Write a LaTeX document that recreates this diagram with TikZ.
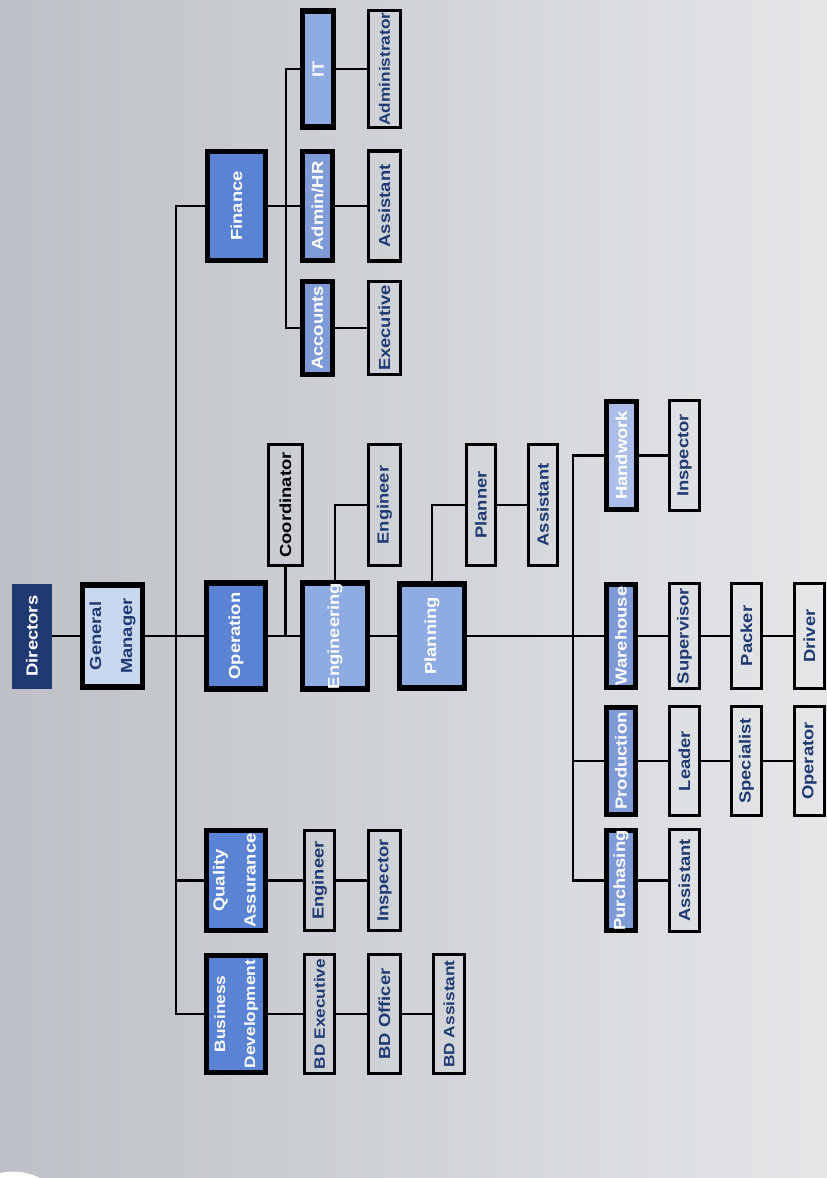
\documentclass[tikz,border=0pt]{standalone}
\usepackage{fontspec}
\setmainfont{Liberation Sans}[FakeStretch=1.15]
\definecolor{navy}{HTML}{1F3A73}
\definecolor{bluea}{HTML}{5A83D4}
\definecolor{blueb}{HTML}{8EABE2}
\definecolor{bluec}{HTML}{7E9BD8}
\definecolor{blued}{HTML}{AABEE8}
\definecolor{gmfill}{HTML}{C9D7EF}
\definecolor{bgl}{HTML}{BDC0C6}
\definecolor{bgr}{HTML}{E4E6E8}
\newcommand{\orgnode}[6]{\node[#1,minimum width=#4pt,minimum height=#5pt] (#2) at (#3) {\rotatebox{90}{#6}};}
\newcommand{\twolines}[2]{\begin{tabular}{@{}c@{}}#1\\[10pt]#2\end{tabular}}
\newcommand{\smallertext}{\fontsize{15}{20}\selectfont}
\begin{document}
\begin{tikzpicture}[x=1pt,y=-1pt,
  base/.style={rectangle,inner sep=0pt,font=\bfseries\fontsize{16}{21}\selectfont},
  topbox/.style={base,fill=navy,text=white},
  gmbox/.style={base,draw=black,line width=5.5pt,fill=gmfill,text=navy},
  deptA/.style={base,draw=black,line width=5.5pt,fill=bluea,text=white},
  deptB/.style={base,draw=black,line width=5.5pt,fill=blueb,text=white},
  deptC/.style={base,draw=black,line width=5.5pt,fill=bluec,text=white},
  deptD/.style={base,draw=black,line width=5.5pt,fill=blued,text=white},
  leaf/.style={base,draw=black,line width=3.2pt,text=navy},
  conn/.style={draw=black,line width=2.8pt}]
\useasboundingbox (0,0) rectangle (827,1178);
\shade[left color=bgl,right color=bgr] (0,0) rectangle (827,1178);
\fill[white] (0,1178) -- (0,1173) .. controls (14,1170) and (28,1172) .. (40,1178) -- cycle;

% trunk x positions
\coordinate (t1) at (176,0);
\coordinate (t2) at (286,0);
\coordinate (t3) at (573,0);

% main row
\orgnode{topbox}{dir}{32,636}{40}{105}{Directors}
\orgnode{gmbox}{gm}{112.5,636}{60}{102}{\twolines{General}{Manager}}
\orgnode{deptA}{op}{236,636}{59}{106}{Operation}
\orgnode{deptB}{eng}{335,636}{65}{106}{Engineering}
\orgnode{deptB}{plan}{432,636}{65}{104}{Planning}

% operation / engineering / planning children
\node[leaf,text=black,minimum width=34pt,minimum height=121pt] (coord) at (285.5,505) {\rotatebox{90}{Coordinator}};
\orgnode{leaf}{engr}{384.5,505}{32}{121}{Engineer}
\orgnode{leaf}{planner}{481,505}{29}{121}{Planner}
\orgnode{leaf}{passt}{543,505}{29}{121}{Assistant}

% planning sub-departments
\orgnode{deptD}{hand}{621.5,455.5}{30}{108}{Handwork}
\orgnode{leaf}{hinsp}{684.5,455.5}{30}{110}{Inspector}
\orgnode{deptC}{ware}{621,636}{29}{103}{Warehouse}
\orgnode{leaf}{sup}{684.5,636}{30}{105}{Supervisor}
\orgnode{leaf}{pack}{746.5,636}{30}{105}{Packer}
\orgnode{leaf}{drv}{809.5,636}{30}{105}{Driver}
\orgnode{deptC}{prod}{621,761}{29}{107}{Production}
\orgnode{leaf}{lead}{684.5,761}{30}{109}{Leader}
\orgnode{leaf}{spec}{746.5,761}{30}{109}{Specialist}
\orgnode{leaf}{oper}{809.5,761}{30}{109}{Operator}
\orgnode{deptC}{purch}{621,880.5}{29}{100}{Purchasing}
\orgnode{leaf}{passt2}{684.5,880.5}{30}{102}{Assistant}

% quality assurance
\orgnode{deptA}{qa}{236,880.5}{59}{100}{\twolines{Quality}{Assurance}}
\orgnode{leaf}{qaeng}{319.5,880.5}{30}{100}{Engineer}
\orgnode{leaf}{qainsp}{384.5,880.5}{32}{100}{Inspector}

% business development
\orgnode{deptA}{bd}{236,1014}{59}{117}{\smallertext\twolines{Business}{Development}}
\orgnode{leaf}{bdex}{319.5,1014}{30}{119}{\smallertext BD Executive}
\orgnode{leaf}{bdoff}{384.5,1014}{32}{119}{BD Officer}
\orgnode{leaf}{bdas}{449,1014}{31}{119}{\smallertext BD Assistant}

% finance
\orgnode{deptA}{fin}{236.5,206}{58}{109}{Finance}
\orgnode{deptB}{it}{318,69}{31}{116}{IT}
\orgnode{deptC}{admin}{317.5,206}{30}{109}{Admin/HR}
\orgnode{deptC}{acc}{317.5,328}{30}{93}{Accounts}
\orgnode{leaf}{adm}{384.5,69}{32}{117}{\smallertext Administrator}
\orgnode{leaf}{aasst}{384.5,206}{32}{110}{Assistant}
\orgnode{leaf}{exe}{384.5,328}{32}{93}{Executive}

% connectors
\draw[conn] (dir.east) -- (gm.west);
\draw[conn] (gm.east) -- (op.west);
\draw[conn] (fin.west) -- (fin.west -| t1) -- (bd.west -| t1) -- (bd.west);
\draw[conn] (qa.west) -- (qa.west -| t1);
\draw[conn] (op.east) -- (eng.west);
\draw[conn] (coord.south) -- (coord.south |- op.east);
\draw[conn] (eng.north) |- (engr.west);
\draw[conn] (eng.east) -- (plan.west);
\draw[conn] (plan.north) |- (planner.west);
\draw[conn] (planner.east) -- (passt.west);
\draw[conn] (plan.east) -- (ware.west);
\draw[conn] (hand.west) -- (hand.west -| t3) -- (purch.west -| t3) -- (purch.west);
\draw[conn] (prod.west) -- (prod.west -| t3);
\draw[conn] (hand.east) -- (hinsp.west);
\draw[conn] (ware.east) -- (sup.west);
\draw[conn] (sup.east) -- (pack.west);
\draw[conn] (pack.east) -- (drv.west);
\draw[conn] (prod.east) -- (lead.west);
\draw[conn] (lead.east) -- (spec.west);
\draw[conn] (spec.east) -- (oper.west);
\draw[conn] (purch.east) -- (passt2.west);
\draw[conn] (qa.east) -- (qaeng.west);
\draw[conn] (qaeng.east) -- (qainsp.west);
\draw[conn] (bd.east) -- (bdex.west);
\draw[conn] (bdex.east) -- (bdoff.west);
\draw[conn] (bdoff.east) -- (bdas.west);
\draw[conn] (fin.east) -- (admin.west);
\draw[conn] (it.west) -- (it.west -| t2) -- (acc.west -| t2) -- (acc.west);
\draw[conn] (it.east) -- (adm.west);
\draw[conn] (admin.east) -- (aasst.west);
\draw[conn] (acc.east) -- (exe.west);
\end{tikzpicture}
\end{document}
